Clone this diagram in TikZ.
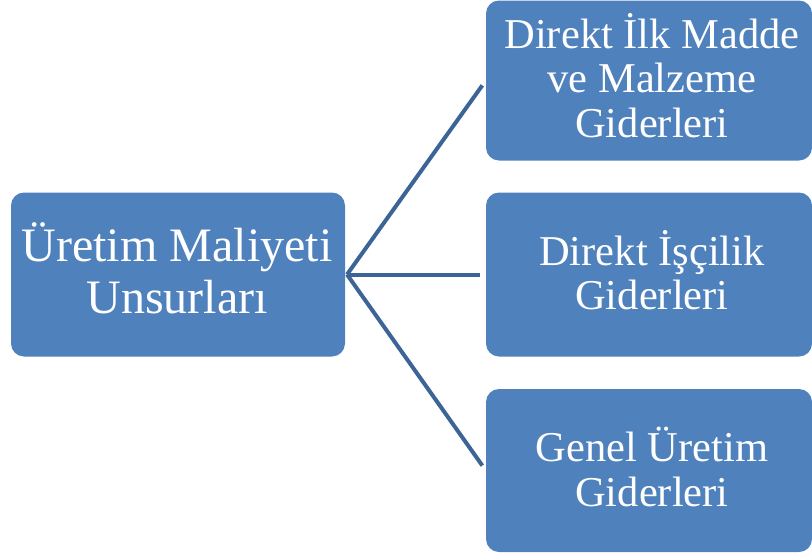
\documentclass[tikz,border=0pt]{standalone}
\usepackage{fontspec}
\setmainfont{Liberation Serif}
\definecolor{boxfill}{HTML}{4F81BD}
\definecolor{linkcol}{HTML}{3C6496}
\begin{document}
\begin{tikzpicture}[x=1pt,y=-1pt,
  cbox/.style={draw=none,fill=boxfill,rounded corners=13pt,inner sep=0pt},
  ctext/.style={text=white,align=center,inner sep=0pt,anchor=base,
    font=\fontsize{42.5}{44.5}\selectfont},
  bigtext/.style={ctext,font=\fontsize{48}{52}\selectfont},
  link/.style={draw=linkcol,line width=4pt,shorten >=6pt}]
\useasboundingbox (0,0) rectangle (812,555);
\node[cbox,minimum width=334pt,minimum height=164pt] (root) at (178,274.5) {};
\node[cbox,minimum width=326pt,minimum height=160pt] (a) at (649,80.5) {};
\node[cbox,minimum width=326pt,minimum height=164pt] (b) at (649,274.5) {};
\node[cbox,minimum width=326pt,minimum height=163pt] (c) at (649,470.5) {};
\node[bigtext] (roott) at (177,313) {Üretim Maliyeti\\Unsurları};
\node[ctext] (at) at (652,137) {Direkt İlk Madde\\ve Malzeme\\Giderleri};
\node[ctext] (bt) at (652,309.5) {Direkt İşçilik\\Giderleri};
\node[ctext] (ct) at (652,506) {Genel Üretim\\Giderleri};
\coordinate (hub) at (347,274.5);
\draw[link] (hub) -- (a.west);
\draw[link] (hub) -- (b.west);
\draw[link] (hub) -- (c.west);
\end{tikzpicture}
\end{document}
